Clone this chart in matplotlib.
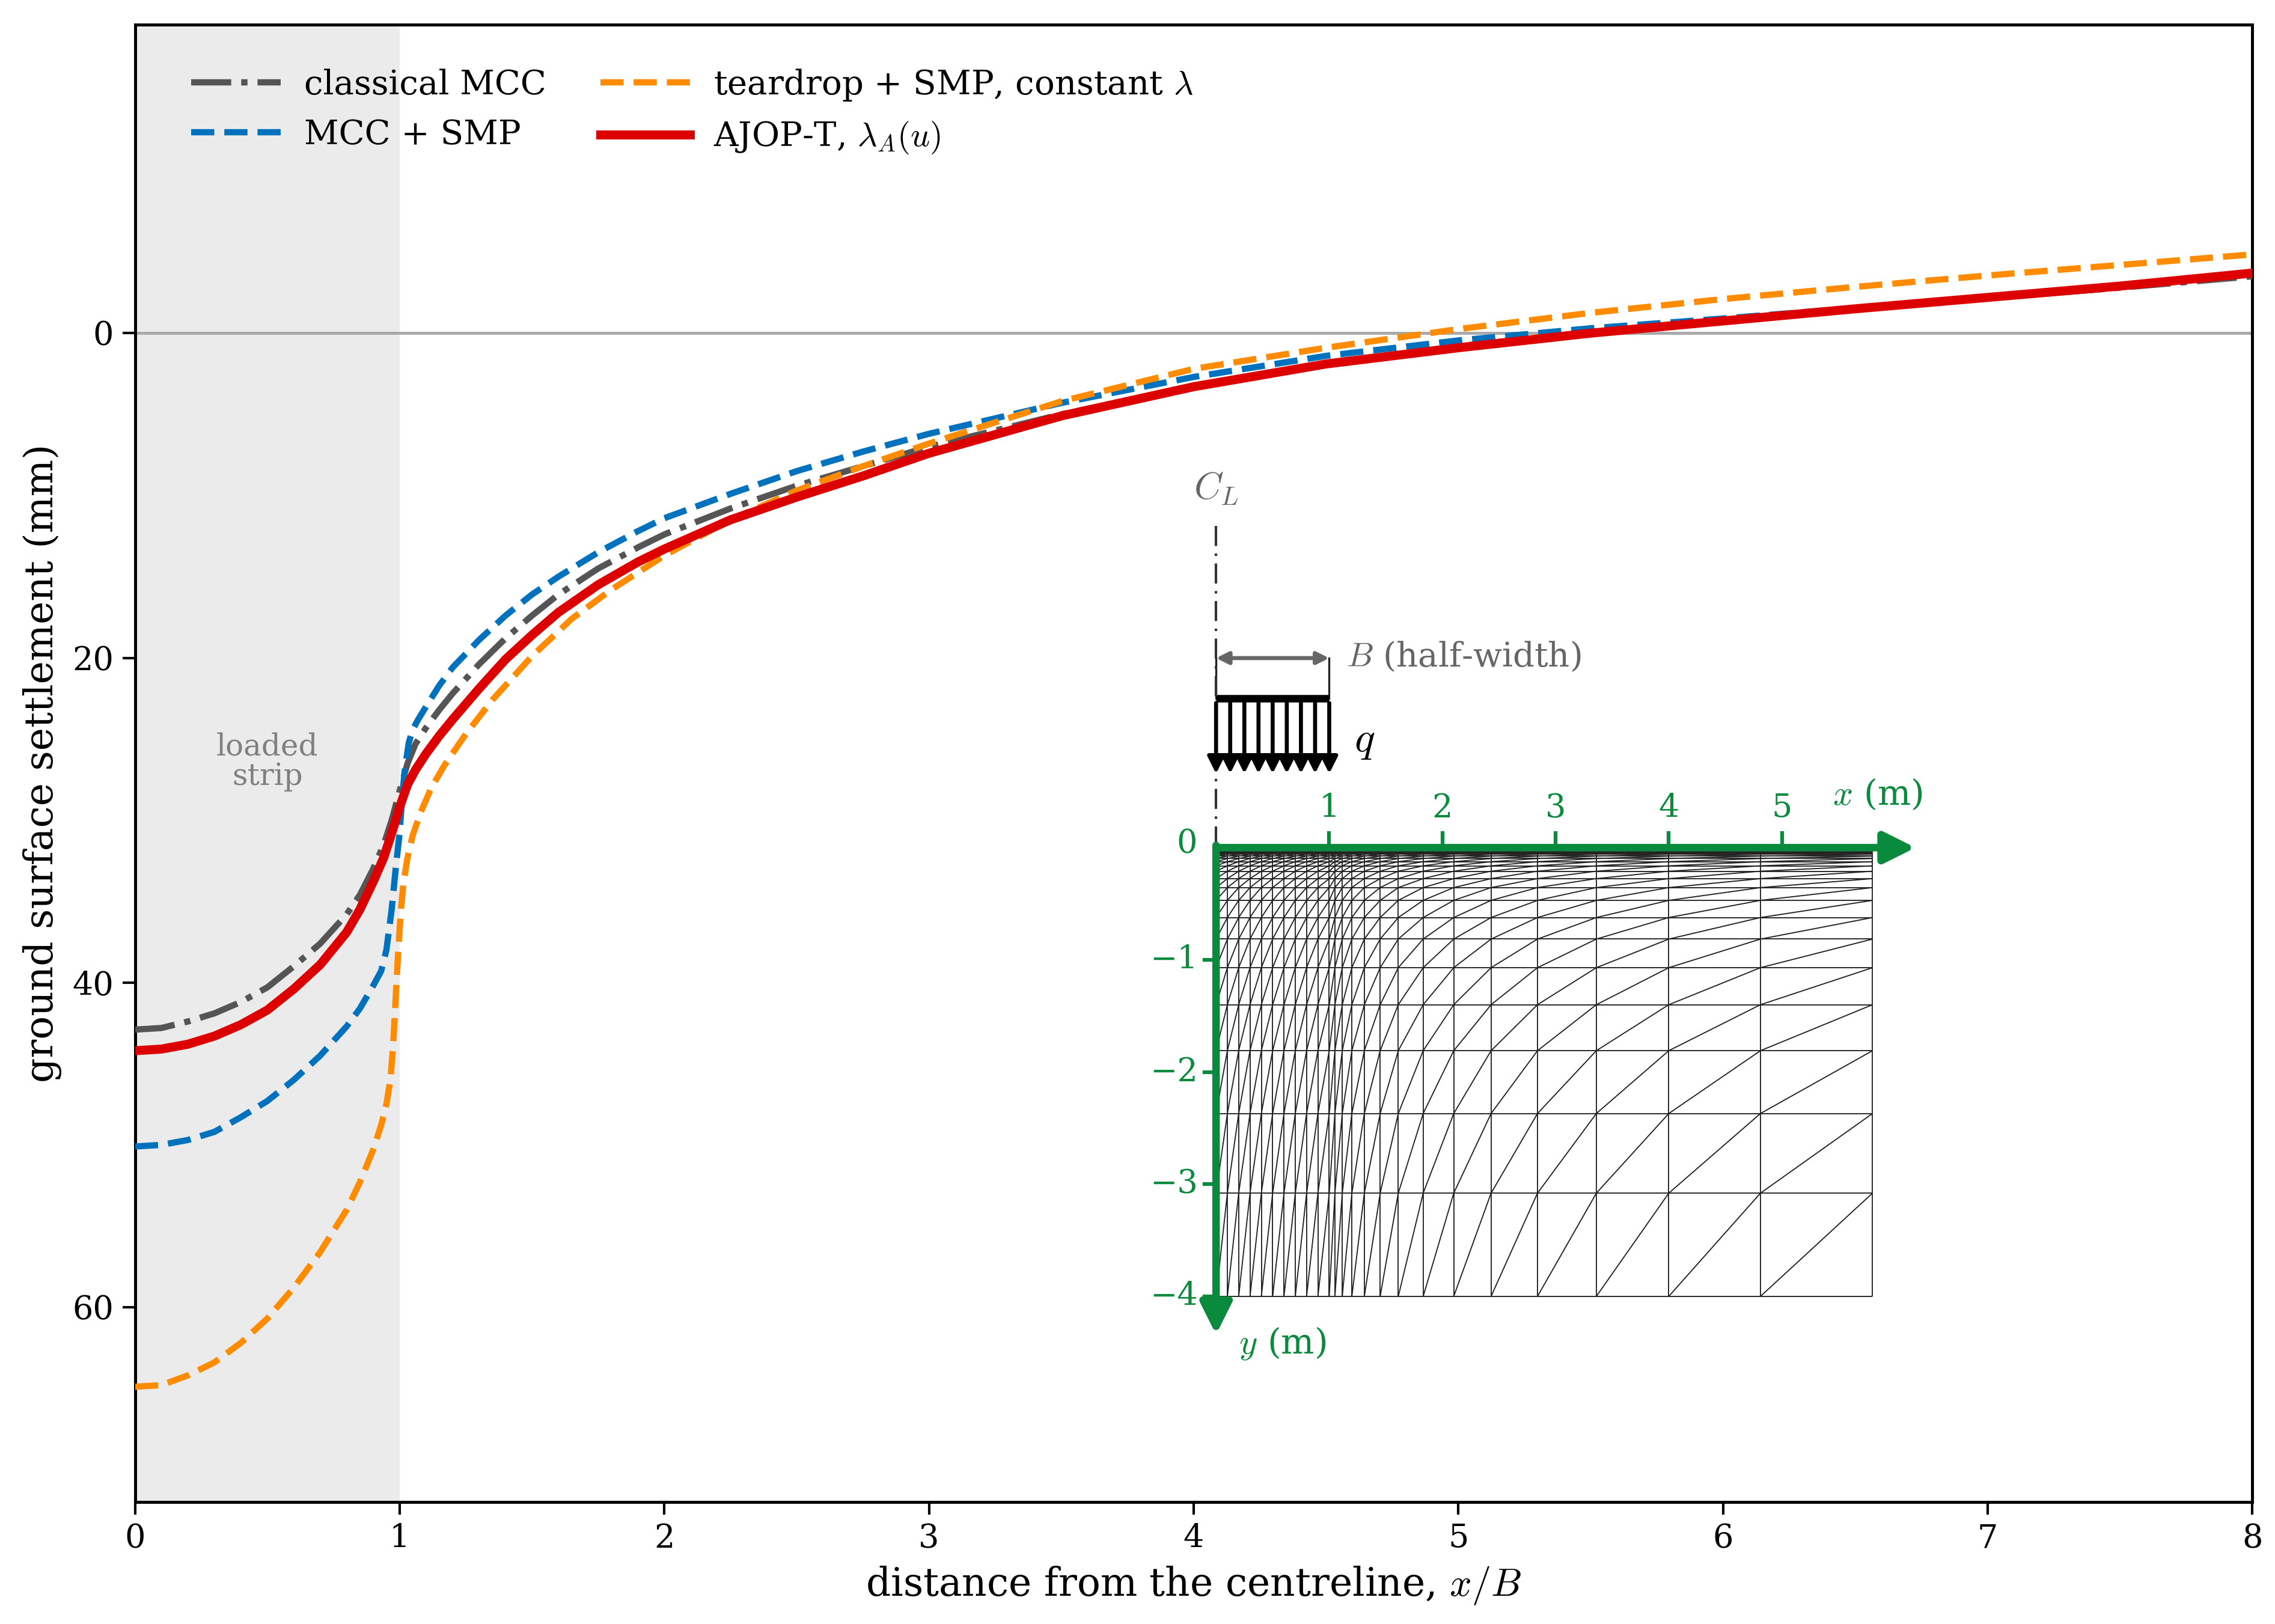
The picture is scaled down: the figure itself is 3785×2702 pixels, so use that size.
import numpy as np
import matplotlib
matplotlib.use('Agg')
import matplotlib.pyplot as plt
from matplotlib.collections import LineCollection

plt.rcParams['font.family'] = ['DejaVu Serif']
plt.rcParams['mathtext.fontset'] = 'cm'

# ---------------- data ----------------
x_mcc = [0, 0.1, 0.2, 0.3, 0.4, 0.5, 0.6, 0.7, 0.8, 0.85, 0.9, 0.94, 0.97, 1.0, 1.03, 1.06,
         1.1, 1.15, 1.2, 1.3, 1.4, 1.5, 1.6, 1.75, 1.9, 2.0, 2.25, 2.5, 2.75, 3.0, 3.5, 4.0,
         4.5, 5.0, 5.5, 6.0, 6.5, 7.0, 7.5, 8.0]
s_mcc = [42.9, 42.8, 42.4, 41.9, 41.2, 40.3, 39.0, 37.6, 35.8, 34.6, 33.0, 31.5, 30.0, 28.2,
         26.5, 25.3, 24.3, 23.2, 22.2, 20.4, 18.8, 17.4, 16.1, 14.5, 13.2, 12.4, 10.8, 9.4,
         8.2, 7.0, 5.0, 3.3, 1.9, 0.8, -0.05, -0.8, -1.5, -2.15, -2.8, -3.5]

x_smp = [0, 0.1, 0.2, 0.3, 0.4, 0.5, 0.6, 0.7, 0.8, 0.85, 0.9, 0.93, 0.95, 0.97, 0.985, 1.0,
         1.01, 1.02, 1.035, 1.05, 1.07, 1.1, 1.15, 1.2, 1.3, 1.4, 1.5, 1.6, 1.75, 1.9, 2.0,
         2.25, 2.5, 2.75, 3.0, 3.5, 4.0, 4.5, 5.0, 5.5, 6.0, 6.5, 7.0, 7.5, 8.0]
s_smp = [50.1, 50.0, 49.7, 49.2, 48.3, 47.3, 46.0, 44.5, 42.7, 41.6, 40.2, 39.3, 38.0, 35.5,
         33.0, 30.8, 28.5, 26.8, 25.2, 24.4, 23.8, 23.0, 21.7, 20.6, 18.9, 17.4, 16.1, 15.0,
         13.5, 12.2, 11.4, 9.9, 8.5, 7.3, 6.2, 4.3, 2.7, 1.4, 0.45, -0.3, -0.9, -1.55, -2.2,
         -2.9, -3.65]

x_tear = [0, 0.1, 0.2, 0.3, 0.4, 0.5, 0.6, 0.7, 0.8, 0.85, 0.9, 0.93, 0.95, 0.965, 0.975,
          0.985, 0.995, 1.005, 1.015, 1.03, 1.05, 1.08, 1.12, 1.17, 1.25, 1.35, 1.5, 1.65,
          1.8, 2.0, 2.25, 2.5, 2.75, 3.0, 3.5, 4.0, 4.5, 5.0, 5.5, 6.0, 6.5, 7.0, 7.5, 8.0]
s_tear = [64.9, 64.8, 64.2, 63.4, 62.2, 60.7, 58.8, 56.6, 54.0, 52.3, 50.3, 48.8, 47.5, 46.0,
          44.0, 41.0, 38.0, 35.5, 33.8, 32.3, 30.9, 29.5, 28.0, 26.6, 24.7, 22.6, 19.9, 17.6,
          15.8, 13.7, 11.5, 9.7, 8.2, 6.8, 4.2, 2.2, 0.9, -0.25, -1.25, -2.1, -2.85, -3.55,
          -4.2, -4.85]

x_ajop = [0, 0.1, 0.2, 0.3, 0.4, 0.5, 0.6, 0.7, 0.8, 0.85, 0.9, 0.94, 0.97, 1.0, 1.03, 1.06,
          1.1, 1.15, 1.2, 1.3, 1.4, 1.5, 1.6, 1.75, 1.9, 2.0, 2.25, 2.5, 2.75, 3.0, 3.5, 4.0,
          4.5, 5.0, 5.5, 6.0, 6.5, 7.0, 7.5, 8.0]
s_ajop = [44.2, 44.1, 43.8, 43.3, 42.6, 41.7, 40.4, 38.9, 36.9, 35.5, 33.8, 32.3, 30.8, 29.2,
          27.8, 26.9, 25.9, 24.8, 23.8, 21.9, 20.1, 18.6, 17.2, 15.5, 14.1, 13.3, 11.5, 10.1,
          8.8, 7.4, 5.1, 3.3, 1.9, 0.9, 0.0, -0.75, -1.5, -2.2, -2.9, -3.7]

labels = ['classical MCC', 'MCC + SMP', r'teardrop + SMP, constant $\lambda$',
          r'AJOP-T, $\lambda_A(u)$']

# finite-element mesh of the inset (m)
mesh_x = [0, 0.1, 0.2, 0.3, 0.4, 0.5, 0.6, 0.7, 0.8, 0.9, 1.0, 1.05, 1.115, 1.2, 1.31,
          1.45, 1.61, 1.83, 2.10, 2.43, 2.84, 3.36, 4.0, 4.81, 5.8]
mesh_depth = [0, 0.012, 0.02, 0.027, 0.035, 0.045, 0.058, 0.075, 0.097, 0.125, 0.162,
              0.21, 0.276, 0.356, 0.47, 0.623, 0.815, 1.07, 1.40, 1.81, 2.37, 3.08, 4.0]
inset_xticks = [1, 2, 3, 4, 5]
inset_yticks = [-1, -2, -3, -4]

# ---------------- figure ----------------
fig = plt.figure(figsize=(3786 / 300, 2702 / 300), dpi=300)
ax = fig.add_axes([0.0593, 0.0751, 0.9305, 0.9097])

ax.axvspan(0, 1, color='#ebebeb', zorder=0, lw=0)
ax.axhline(0, color='#aaaaaa', lw=1.2, zorder=1)

c_gray, c_blue, c_orange, c_red = '#555555', '#0072bd', '#ff8c00', '#dd0000'
ax.plot(x_mcc, s_mcc, color=c_gray, ls='-.', lw=2.5, label=labels[0], zorder=3)
ax.plot(x_smp, s_smp, color=c_blue, ls='--', lw=2.5, label=labels[1], zorder=3)
ax.plot(x_tear, s_tear, color=c_orange, ls='--', lw=2.5, label=labels[2], zorder=3)
ax.plot(x_ajop, s_ajop, color=c_red, ls='-', lw=3.6, label=labels[3], zorder=4)

ax.set_xlim(0, 8)
ax.set_ylim(72, -19)
ax.set_xticks(range(0, 9))
ax.set_yticks([0, 20, 40, 60])
ax.tick_params(labelsize=13, width=1.0, length=5)
for sp in ax.spines.values():
    sp.set_linewidth(1.2)
ax.set_xlabel(r'distance from the centreline, $x/B$', fontsize=15.5)
ax.set_ylabel('ground surface settlement (mm)', fontsize=15.5)

ax.text(0.5, 26.4, 'loaded\nstrip', ha='center', va='center', fontsize=12,
        color='#808080', linespacing=1.0)

leg = ax.legend(loc='upper left', bbox_to_anchor=(0.0105, 0.994), ncol=2, frameon=False,
                fontsize=13.5, handlelength=2.65, handletextpad=0.7, columnspacing=1.6,
                labelspacing=0.5, borderaxespad=0.6)

# ---------------- inset ----------------
green = '#0a8a3c'
ins = fig.add_axes([0.4946, 0.1603, 0.3581, 0.5595])
ins.set_xlim(-0.8, 6.4)
ins.set_ylim(-4.6, 3.5)
ins.axis('off')
ins.patch.set_alpha(0)

segs = []
xmax = mesh_x[-1]
dmax = mesh_depth[-1]
for xv in mesh_x:
    segs.append([(xv, 0), (xv, -dmax)])
for d in mesh_depth:
    segs.append([(0, -d), (xmax, -d)])
for i in range(len(mesh_x) - 1):
    for j in range(len(mesh_depth) - 1):
        segs.append([(mesh_x[i], -mesh_depth[j + 1]), (mesh_x[i + 1], -mesh_depth[j])])
ins.add_collection(LineCollection(segs, colors='#222222', linewidths=0.45, zorder=2))

# centre line
ins.plot([0, 0], [2.87, 0], color='#333333', lw=1.0, ls=(0, (8, 3, 1, 3)), zorder=3)
ins.text(0, 3.2, r'$C_L$', color='#666666', fontsize=15, ha='center', va='center')

# half-width dimension
ins.annotate('', xy=(1.0, 1.69), xytext=(0.0, 1.69),
             arrowprops=dict(arrowstyle='<|-|>', color='#666666', lw=1.6,
                             mutation_scale=10, shrinkA=0, shrinkB=0))
ins.plot([0, 0], [1.69, 1.33], color='#222222', lw=0.8)
ins.plot([1, 1], [1.69, 1.33], color='#222222', lw=0.8)
ins.text(1.15, 1.7, r'$B$ (half-width)', color='#666666', fontsize=13.5,
         ha='left', va='center')

# load
ins.plot([0, 1], [1.33, 1.33], color='black', lw=3.0, solid_capstyle='butt')
for k in range(9):
    xa = k / 8
    ins.annotate('', xy=(xa, 0.66), xytext=(xa, 1.29),
                 arrowprops=dict(arrowstyle='-|>', color='black', lw=1.6,
                                 mutation_scale=14, shrinkA=0, shrinkB=0))
ins.text(1.31, 0.96, r'$q$', fontsize=17, ha='center', va='center', color='black')

# green axes
ins.annotate('', xy=(6.18, 0), xytext=(0, 0),
             arrowprops=dict(arrowstyle='-|>', color=green, lw=3.0,
                             mutation_scale=26, shrinkA=0, shrinkB=0), zorder=5)
ins.annotate('', xy=(0, -4.34), xytext=(0, 0.02),
             arrowprops=dict(arrowstyle='-|>', color=green, lw=3.0,
                             mutation_scale=26, shrinkA=0, shrinkB=0), zorder=5)
for t in inset_xticks:
    ins.plot([t, t], [0, 0.13], color=green, lw=1.5)
    ins.text(t, 0.35, str(t), color=green, fontsize=13, ha='center', va='center')
ins.text(-0.26, 0.03, '0', color=green, fontsize=13, ha='center', va='center')
for t in inset_yticks:
    ins.plot([0, -0.1], [t, t], color=green, lw=1.5)
    ins.text(-0.16, t, '\u2212' + str(abs(t)), color=green, fontsize=13,
             ha='right', va='center')
ins.text(5.45, 0.47, r'$x$ (m)', color=green, fontsize=14, ha='left', va='center')
ins.text(0.2, -4.42, r'$y$ (m)', color=green, fontsize=14, ha='left', va='center')

fig.savefig('out.png', dpi=300)
